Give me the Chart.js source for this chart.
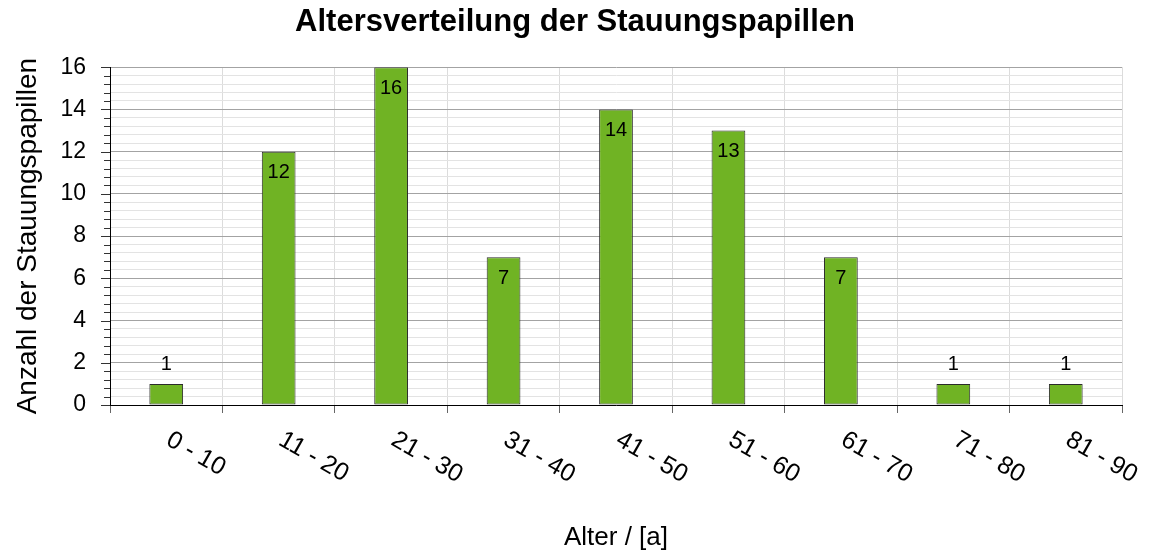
<!DOCTYPE html>
<html>
<head>
<meta charset="utf-8">
<script src="https://cdn.jsdelivr.net/npm/chart.js@4/dist/chart.umd.min.js"></script>
<style>
  html, body { margin: 0; padding: 0; background: #ffffff; }
  #wrap { width: 1152px; height: 553px; }
</style>
</head>
<body>
<div id="wrap"><canvas id="c" width="1152" height="553"></canvas></div>
<script>
// Age groups and number of cases per group
const categories = ['0 - 10', '11 - 20', '21 - 30', '31 - 40', '41 - 50', '51 - 60', '61 - 70', '71 - 80', '81 - 90'];
const counts = [1, 12, 16, 7, 14, 13, 7, 1, 1];

// Labelled y ticks; each interval is split into minor steps for the fine grid
const yMajorTicks = [0, 2, 4, 6, 8, 10, 12, 14, 16];
const minorSteps = 5;

const FONT = "'Liberation Sans', Arial, Helvetica, sans-serif";

function buildYTicks() {
  const ticks = [];
  for (let m = 0; m < yMajorTicks.length; m++) {
    ticks.push({ value: yMajorTicks[m], major: true });
    if (m < yMajorTicks.length - 1) {
      const step = (yMajorTicks[m + 1] - yMajorTicks[m]) / minorSteps;
      for (let k = 1; k < minorSteps; k++) {
        ticks.push({ value: yMajorTicks[m] + k * step, major: false });
      }
    }
  }
  return ticks;
}
const isMajor = v => yMajorTicks.some(t => Math.abs(t - v) < 1e-6);

// Value labels on the bars, rotated category labels and y tick marks
const decorPlugin = {
  id: 'decor',
  afterDatasetsDraw(chart) {
    const ctx = chart.ctx;
    const meta = chart.getDatasetMeta(0);
    ctx.save();
    ctx.fillStyle = '#000';
    ctx.font = '20px ' + FONT;
    ctx.textAlign = 'center';
    ctx.textBaseline = 'middle';
    meta.data.forEach((bar, i) => {
      const h = bar.base - bar.y;
      const y = h < 30 ? bar.y - 19 : bar.y + 21;
      ctx.fillText(String(counts[i]), bar.x, y);
    });
    ctx.restore();
  },
  afterDraw(chart) {
    const ctx = chart.ctx;
    const xs = chart.scales.x;
    const ys = chart.scales.y;
    ctx.save();
    // y tick marks: long at labelled values, short in between
    ctx.strokeStyle = '#333';
    ctx.lineWidth = 1;
    ys.ticks.forEach(t => {
      const py = Math.round(ys.getPixelForValue(t.value)) + 0.5;
      const len = isMajor(t.value) ? 9 : 6;
      ctx.beginPath();
      ctx.moveTo(ys.right - len, py);
      ctx.lineTo(ys.right, py);
      ctx.stroke();
    });
    // category labels, slanted downwards
    ctx.fillStyle = '#000';
    ctx.font = '25px ' + FONT;
    ctx.textAlign = 'left';
    ctx.textBaseline = 'middle';
    categories.forEach((lab, i) => {
      const px = xs.getPixelForValue(i);
      ctx.save();
      ctx.translate(px + 2, 438);
      ctx.rotate(Math.PI / 6);
      ctx.fillText(lab, 0, 0);
      ctx.restore();
    });
    ctx.restore();
  }
};

new Chart(document.getElementById('c'), {
  type: 'bar',
  data: {
    labels: categories,
    datasets: [{
      data: counts,
      backgroundColor: '#70b324',
      borderColor: '#2b2b2b',
      borderWidth: 1,
      borderSkipped: false,
      categoryPercentage: 1,
      barPercentage: 0.3
    }]
  },
  options: {
    responsive: false,
    animation: false,
    devicePixelRatio: 1,
    layout: { padding: { left: 28, right: 30, top: 0, bottom: 0 } },
    plugins: {
      legend: { display: false },
      tooltip: { enabled: false },
      title: {
        display: true,
        text: 'Altersverteilung der Stauungspapillen',
        color: '#000',
        font: { family: FONT, size: 31, weight: 'bold' },
        padding: { top: 4, bottom: 26 }
      }
    },
    scales: {
      x: {
        type: 'category',
        offset: true,
        grid: { offset: true, color: '#dcdcdc', drawTicks: true, tickLength: 8, tickColor: '#666' },
        border: { color: '#000', width: 1 },
        ticks: { display: false },
        title: {
          display: true,
          text: 'Alter / [a]',
          color: '#000',
          font: { family: FONT, size: 26 },
          padding: { top: 0, bottom: 0 }
        },
        afterFit(s) { s.height = 148; }
      },
      y: {
        min: 0,
        max: 16,
        afterBuildTicks(s) { s.ticks = buildYTicks(); },
        grid: {
          drawTicks: false,
          color: c => (c.tick && isMajor(c.tick.value)) ? '#a3a3a3' : '#e3e3e3'
        },
        border: { color: '#000', width: 1 },
        ticks: {
          autoSkip: false,
          padding: 24,
          color: '#000',
          font: { family: FONT, size: 23 },
          callback: v => isMajor(v) ? String(Math.round(v)) : ''
        },
        title: {
          display: true,
          text: 'Anzahl der Stauungspapillen',
          color: '#000',
          font: { family: FONT, size: 28 },
          padding: { top: -17, bottom: 0 }
        },
        afterFit(s) { s.width = 82; }
      }
    }
  },
  plugins: [decorPlugin]
});
</script>
</body>
</html>
